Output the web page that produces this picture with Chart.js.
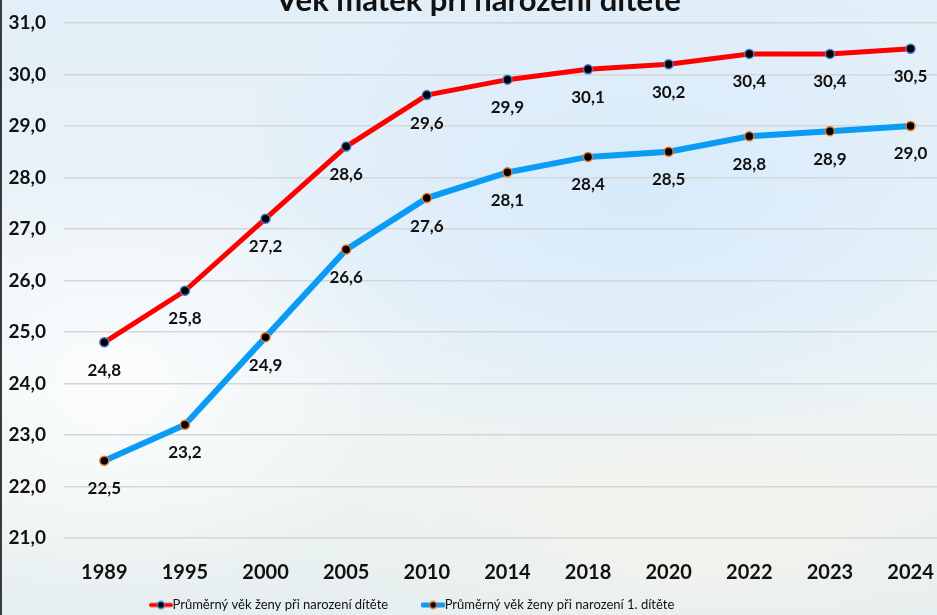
<!DOCTYPE html>
<html lang="cs">
<head>
<meta charset="utf-8">
<title>Věk matek při narození dítěte</title>
<script src="https://cdn.jsdelivr.net/npm/chart.js@4.4.1/dist/chart.umd.min.js"></script>
<style>
  html, body { margin: 0; padding: 0; }
  body {
    width: 937px;
    height: 615px;
    overflow: hidden;
    position: relative;
    background:
      radial-gradient(ellipse 420px 260px at 68% 32%, rgba(214, 234, 251, 0.95), rgba(214, 234, 251, 0)),
      radial-gradient(ellipse 300px 220px at 12% 62%, rgba(252, 253, 254, 0.95), rgba(252, 253, 254, 0)),
      radial-gradient(ellipse 380px 160px at 75% 86%, rgba(243, 243, 236, 0.9), rgba(243, 243, 236, 0)),
      linear-gradient(180deg, #e3eff8 0%, #eaf3f8 45%, #eef3f1 80%, #e5eef0 100%);
  }
  #obal { position: absolute; left: 0; top: -22px; width: 957px; height: 671px; }
  #okraj { position: absolute; left: 0; top: 0; width: 2px; height: 615px; background: #3a3a3a; }
</style>
</head>
<body>
<div id="obal"><canvas id="graf" width="957" height="671"></canvas></div>
<div id="okraj"></div>
<script>
// Data z grafu
const roky = ['1989', '1995', '2000', '2005', '2010', '2014', '2018', '2020', '2022', '2023', '2024'];
const vekPriNarozeni = [24.8, 25.8, 27.2, 28.6, 29.6, 29.9, 30.1, 30.2, 30.4, 30.4, 30.5];
const vekPrvniDite = [22.5, 23.2, 24.9, 26.6, 27.6, 28.1, 28.4, 28.5, 28.8, 28.9, 29.0];
const nazvyRad = ['Průměrný věk ženy při narození dítěte', 'Průměrný věk ženy při narození 1. dítěte'];
const osaYMin = 21;
const osaYMax = 31;

const pismo = "Lato, 'DejaVu Sans Condensed', sans-serif";
Chart.defaults.font.family = pismo;

// Česká desetinná čárka
const cislo = v => Number(v).toFixed(1).replace('.', ',');

// Značka do legendy: čára s tečkou uprostřed
function znacka(barvaCary, sirkaCary, barvaOkraje) {
    const c = document.createElement('canvas');
    c.width = 24;
    c.height = 11;
    const g = c.getContext('2d');
    g.strokeStyle = barvaCary;
    g.lineWidth = sirkaCary;
    g.lineCap = 'round';
    g.beginPath();
    g.moveTo(2, 5.5);
    g.lineTo(22, 5.5);
    g.stroke();
    g.beginPath();
    g.arc(12, 5.5, 3.5, 0, Math.PI * 2);
    g.fillStyle = '#000';
    g.fill();
    g.lineWidth = 1.5;
    g.strokeStyle = barvaOkraje;
    g.stroke();
    return c;
}
const znacky = [znacka('#ff0000', 4, '#4a78c8'), znacka('#0a9cf5', 5, '#e8782a')];

// Popisky hodnot pod body
const popiskyHodnot = {
    id: 'popiskyHodnot',
    afterDatasetsDraw(chart) {
        const c = chart.ctx;
        c.save();
        c.font = 'bold 17px ' + pismo;
        c.fillStyle = '#111';
        c.textAlign = 'center';
        c.textBaseline = 'middle';
        chart.data.datasets.forEach((ds, i) => {
            chart.getDatasetMeta(i).data.forEach((bod, j) => {
                c.fillText(cislo(ds.data[j]), bod.x, bod.y + 28);
            });
        });
        c.restore();
    }
};

// Legenda je v originále posunutá doleva od středu a těsně pod popisky osy
const posunLegendy = {
    id: 'posunLegendy',
    afterLayout(chart) {
        const lg = chart.legend;
        const w = lg.width, h = lg.height;
        const op = lg.options.labels;
        lg.left = 116;
        lg.right = 116 + w;
        lg.top = 627 - op.padding - op.font.size / 2;
        lg.bottom = lg.top + h;
    }
};

const ctx = document.getElementById('graf').getContext('2d');

const graf = new Chart(ctx, {
    type: 'line',
    data: {
        labels: roky,
        datasets: [
            {
                label: nazvyRad[0],
                data: vekPriNarozeni,
                borderColor: '#ff0000',
                borderWidth: 5,
                pointBackgroundColor: '#000',
                pointBorderColor: '#4a78c8',
                pointBorderWidth: 1.5,
                pointRadius: 4.5,
                tension: 0,
                fill: false
            },
            {
                label: nazvyRad[1],
                data: vekPrvniDite,
                borderColor: '#0a9cf5',
                borderWidth: 6,
                pointBackgroundColor: '#000',
                pointBorderColor: '#e8782a',
                pointBorderWidth: 1.5,
                pointRadius: 4.5,
                tension: 0,
                fill: false
            }
        ]
    },
    options: {
        responsive: false,
        animation: false,
        devicePixelRatio: 1,
        layout: { padding: 0 },
        plugins: {
            title: {
                display: true,
                text: 'Věk matek při narození dítěte',
                color: '#111',
                font: { size: 31, weight: 'bold' },
                padding: { top: 4, bottom: 3.8 }
            },
            legend: {
                position: 'bottom',
                align: 'start',
                labels: {
                    usePointStyle: true,
                    pointStyleWidth: 10,
                    padding: 40,
                    color: '#111',
                    font: { size: 13 },
                    generateLabels: chart => chart.data.datasets.map((ds, i) => ({
                        text: ds.label,
                        pointStyle: znacky[i],
                        fillStyle: ds.borderColor,
                        strokeStyle: ds.borderColor,
                        lineWidth: 0,
                        fontColor: '#111',
                        hidden: false,
                        datasetIndex: i
                    }))
                }
            },
            tooltip: { enabled: false }
        },
        scales: {
            x: {
                offset: true,
                grid: { display: false, drawTicks: false },
                border: { display: false },
                ticks: { padding: 23, color: '#111', font: { size: 20, weight: 'bold' } },
                afterFit: s => { s.height = 48; }
            },
            y: {
                min: osaYMin,
                max: osaYMax,
                ticks: {
                    stepSize: 1,
                    padding: 18,
                    color: '#111',
                    font: { size: 19, weight: 'bold' },
                    callback: v => cislo(v)
                },
                grid: { color: '#d6d6d6', lineWidth: 1.5, drawTicks: false },
                border: { display: false },
                afterFit: s => { s.width = 64; }
            }
        }
    },
    plugins: [popiskyHodnot, posunLegendy]
});
</script>
</body>
</html>
